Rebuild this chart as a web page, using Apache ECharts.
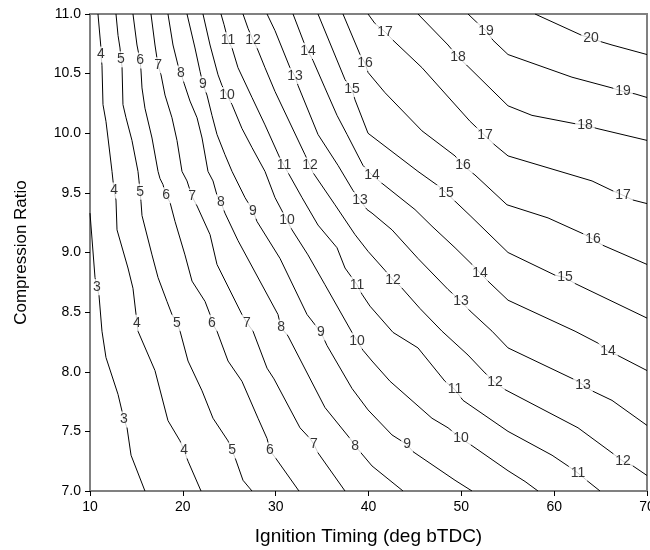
<!DOCTYPE html>
<html>
<head>
<meta charset="utf-8">
<script src="https://cdn.jsdelivr.net/npm/echarts@6/dist/echarts.min.js"></script>
<style>
  html, body { margin: 0; padding: 0; background: #fff; }
  #chart { width: 650px; height: 550px; }
</style>
</head>
<body>
<div id="chart"></div>
<script>
// contour lines, [ignition timing, compression ratio]
const level3 = [[10,9.33],[10.54,8.79],[10.75,8.71],[10.97,8.64],[11.29,8.34],[11.72,8.12],[13.02,7.81],[13.66,7.60],[13.99,7.53],[14.42,7.30],[15.92,7.0]];
const level4 = [[10.86,11],[11.18,10.715],[11.18,10.66],[11.29,10.57],[11.40,10.24],[11.72,10.10],[11.94,9.96],[12.37,9.68],[12.48,9.60],[12.59,9.52],[12.80,9.44],[12.91,9.19],[14.09,8.87],[14.63,8.70],[14.96,8.48],[15.06,8.41],[15.17,8.34],[17.00,8.01],[18.40,7.59],[19.70,7.42],[20.13,7.34],[20.56,7.25],[21.96,7.0]];
const level5 = [[12.80,11],[13.02,10.82],[13.23,10.715],[13.34,10.62],[13.45,10.56],[13.55,10.24],[13.88,10.13],[14.52,9.94],[15.17,9.68],[15.28,9.60],[15.39,9.51],[15.49,9.43],[15.60,9.31],[16.68,8.98],[17.33,8.79],[18.29,8.59],[18.83,8.48],[19.37,8.41],[19.70,8.34],[20.56,8.09],[22.07,7.84],[23.25,7.61],[24.87,7.42],[25.30,7.34],[25.62,7.28],[26.48,7.09],[27.45,7.0]];
const level6 = [[14.63,11],[15.06,10.74],[15.39,10.61],[15.49,10.53],[15.60,10.38],[15.92,10.21],[16.68,9.96],[17.33,9.68],[17.54,9.62],[17.86,9.57],[18.19,9.48],[18.62,9.42],[19.16,9.26],[20.23,8.98],[20.99,8.76],[22.39,8.59],[22.93,8.48],[23.14,8.41],[23.68,8.34],[24.87,8.09],[26.37,7.92],[28.10,7.61],[29.07,7.44],[29.39,7.34],[30.14,7.26],[32.51,7.0]];
const level7 = [[16.57,11],[17.00,10.74],[17.33,10.57],[17.65,10.49],[18.08,10.32],[18.83,10.13],[19.37,9.94],[19.91,9.68],[20.45,9.60],[20.99,9.47],[21.53,9.39],[22.93,9.15],[23.68,8.90],[26.37,8.48],[26.91,8.41],[27.56,8.34],[29.07,8.03],[29.82,7.94],[32.62,7.53],[33.70,7.44],[34.13,7.39],[34.56,7.32],[37.47,7.0]];
const level8 = [[18.40,11],[18.94,10.74],[19.48,10.57],[19.80,10.50],[20.13,10.42],[20.77,10.27],[21.53,10.13],[22.07,9.96],[22.71,9.68],[23.25,9.60],[23.68,9.48],[24.11,9.42],[24.54,9.33],[25.94,9.10],[30.25,8.48],[30.58,8.37],[31.33,8.30],[35.31,7.70],[38.01,7.44],[38.55,7.38],[39.19,7.32],[40.38,7.21],[43.72,7.0]];
const level9 = [[20.45,11],[21.31,10.715],[21.85,10.52],[22.17,10.41],[22.60,10.32],[23.14,10.15],[23.68,9.99],[24.54,9.82],[25.30,9.68],[26.70,9.46],[27.56,9.35],[27.99,9.26],[30.47,8.95],[33.38,8.48],[34.88,8.33],[35.53,8.22],[38.22,7.86],[39.95,7.68],[42.53,7.47],[44.15,7.39],[44.79,7.33],[49.32,7.09],[51.15,7.0]];
const level10 = [[22.17,11],[22.93,10.74],[23.79,10.49],[24.22,10.40],[24.76,10.32],[25.30,10.24],[26.37,10.04],[27.45,9.88],[28.85,9.68],[29.93,9.46],[31.22,9.27],[31.76,9.19],[33.48,8.98],[35.31,8.73],[38.22,8.33],[38.76,8.26],[39.41,8.18],[40.38,8.09],[42.32,7.92],[46.84,7.61],[48.57,7.53],[49.97,7.44],[51.15,7.38],[55.03,7.17],[56.86,7.08],[58.26,7.0]];
const level11 = [[24.11,11],[24.44,10.91],[24.87,10.78],[25.30,10.715],[25.94,10.55],[27.45,10.30],[28.85,10.07],[30.47,9.79],[30.90,9.73],[31.33,9.67],[32.84,9.46],[34.56,9.23],[36.61,9.04],[37.47,8.87],[38.76,8.73],[39.30,8.65],[40.16,8.55],[42.64,8.33],[45.33,8.20],[48.24,7.92],[49.32,7.85],[50.18,7.76],[55.03,7.50],[59.77,7.30],[61.49,7.21],[62.57,7.15],[63.65,7.08],[64.94,7.0]];
const level12 = [[26.48,11],[27.02,10.88],[27.56,10.78],[27.99,10.715],[28.85,10.55],[29.93,10.35],[33.16,9.82],[33.70,9.73],[34.02,9.67],[36.39,9.40],[38.55,9.15],[39.95,9.01],[41.78,8.85],[42.64,8.77],[43.39,8.72],[45.55,8.53],[47.92,8.34],[50.72,8.14],[52.55,7.99],[53.63,7.91],[54.71,7.85],[62.57,7.53],[66.23,7.32],[67.42,7.25],[68.49,7.21],[70,7.13]];
const level13 = [[29.07,11],[29.93,10.86],[31.54,10.55],[32.08,10.48],[32.41,10.40],[34.56,9.99],[36.72,9.73],[38.33,9.52],[39.09,9.44],[39.84,9.36],[40.38,9.33],[42.53,9.19],[45.33,8.95],[48.57,8.69],[49.97,8.59],[50.94,8.51],[53.31,8.34],[55.03,8.20],[62.57,7.92],[63.11,7.89],[64.08,7.84],[66.23,7.76],[70,7.55]];
const level14 = [[31.87,11],[33.05,10.76],[33.48,10.69],[34.02,10.61],[35.31,10.38],[36.61,10.15],[37.69,9.99],[39.41,9.73],[40.38,9.65],[41.46,9.58],[45.01,9.36],[46.84,9.22],[49.32,9.04],[51.15,8.90],[52.01,8.83],[52.87,8.76],[55.03,8.60],[62.25,8.34],[64.72,8.24],[65.80,8.17],[66.77,8.14],[70,8.01]];
const level15 = [[34.56,11],[37.47,10.45],[38.22,10.37],[38.55,10.28],[39.95,10.00],[45.33,9.68],[47.49,9.56],[48.35,9.50],[49.32,9.43],[50.94,9.31],[55.03,9.00],[60.09,8.81],[61.17,8.79],[62.25,8.74],[70,8.45]];
const level16 = [[37.25,11],[39.09,10.66],[39.62,10.59],[39.95,10.51],[41.78,10.34],[45.76,10.02],[49.32,9.81],[50.18,9.73],[51.47,9.65],[54.92,9.40],[59.34,9.29],[63.32,9.15],[64.18,9.11],[65.26,9.06],[70,8.90]];
const level17 = [[39.95,11],[40.70,10.92],[41.78,10.85],[42.64,10.78],[45.76,10.55],[50.94,10.10],[52.55,9.98],[53.63,9.90],[55.03,9.81],[64.08,9.60],[66.23,9.52],[67.42,9.48],[68.49,9.44],[70,9.41]];
const level18 = [[45.33,11],[48.57,10.74],[49.64,10.64],[50.72,10.56],[55.03,10.23],[57.61,10.15],[62.25,10.08],[63.32,10.07],[64.61,10.04],[70,9.94]];
const level19 = [[50.72,11],[51.80,10.92],[52.66,10.86],[53.41,10.78],[55.03,10.66],[61.92,10.47],[66.23,10.38],[67.42,10.35],[68.71,10.33],[70,10.30]];
const level20 = [[57.94,11],[63.00,10.82],[63.97,10.80],[64.94,10.77],[66.23,10.74],[70,10.66]];

const contours = [level3, level4, level5, level6, level7, level8, level9, level10, level11,
  level12, level13, level14, level15, level16, level17, level18, level19, level20];

// label positions on the lines: [x, y, level]
const labelPts = [
  [10.75,8.71,3],[13.66,7.60,3],
  [11.18,10.66,4],[12.59,9.52,4],[15.06,8.41,4],[20.13,7.34,4],
  [13.34,10.62,5],[15.39,9.51,5],[19.37,8.41,5],[25.30,7.34,5],
  [15.39,10.61,6],[18.19,9.48,6],[23.14,8.41,6],[29.39,7.34,6],
  [17.33,10.57,7],[20.99,9.47,7],[26.91,8.41,7],[34.13,7.39,7],
  [19.80,10.50,8],[24.11,9.42,8],[30.58,8.37,8],[38.55,7.38,8],
  [22.17,10.41,9],[27.56,9.35,9],[34.88,8.33,9],[44.15,7.39,9],
  [24.76,10.32,10],[31.22,9.27,10],[38.76,8.26,10],[49.97,7.44,10],
  [24.87,10.78,11],[30.90,9.73,11],[38.76,8.73,11],[49.32,7.85,11],[62.57,7.15,11],
  [27.56,10.78,12],[33.70,9.73,12],[42.64,8.77,12],[53.63,7.91,12],[67.42,7.25,12],
  [32.08,10.48,13],[39.09,9.44,13],[49.97,8.59,13],[63.11,7.89,13],
  [33.48,10.69,14],[40.38,9.65,14],[52.01,8.83,14],[65.80,8.17,14],
  [38.22,10.37,15],[48.35,9.50,15],[61.17,8.79,15],
  [39.62,10.59,16],[50.18,9.73,16],[64.18,9.11,16],
  [41.78,10.85,17],[52.55,9.98,17],[67.42,9.48,17],
  [49.64,10.64,18],[63.32,10.07,18],
  [52.66,10.86,19],[67.42,10.35,19],
  [63.97,10.80,20]
];

const xTicks = { min: 10, max: 70, step: 10 };
const yTicks = { min: 7, max: 11, step: 0.5 };

const font = "'Liberation Sans', Arial, sans-serif";
const chart = echarts.init(document.getElementById('chart'));

const series = contours.map(pts => ({
  type: 'line',
  data: pts,
  showSymbol: false,
  silent: true,
  clip: true,
  lineStyle: { color: '#000', width: 1 }
}));

// labels sit on the lines, white box cuts the line
series.push({
  type: 'scatter',
  data: labelPts,
  symbolSize: 1,
  itemStyle: { color: 'rgba(0,0,0,0)' },
  silent: true,
  z: 5,
  label: {
    show: true,
    position: 'inside',
    formatter: p => String(p.value[2]),
    fontFamily: font,
    fontSize: 14,
    color: '#000',
    backgroundColor: '#fff',
    padding: [1, 2]
  }
});

chart.setOption({
  animation: false,
  grid: {
    left: 90, right: 3, top: 14, bottom: 59,
    containLabel: false,
    outerBoundsMode: 'none',
    show: true,
    borderColor: '#808080',
    borderWidth: 2
  },
  xAxis: {
    type: 'value',
    min: xTicks.min, max: xTicks.max, interval: xTicks.step,
    name: 'Ignition Timing (deg bTDC)',
    nameLocation: 'middle',
    nameGap: 36,
    nameTextStyle: { fontFamily: font, fontSize: 19, color: '#000' },
    axisLine: { onZero: false, lineStyle: { color: '#808080', width: 2 } },
    axisTick: { show: true, length: 5, lineStyle: { color: '#000', width: 1 } },
    axisLabel: { fontFamily: font, fontSize: 14, color: '#000', margin: 9 },
    splitLine: { show: false }
  },
  yAxis: {
    type: 'value',
    min: yTicks.min, max: yTicks.max, interval: yTicks.step,
    name: 'Compression Ratio',
    nameLocation: 'middle',
    nameGap: 60,
    nameTextStyle: { fontFamily: font, fontSize: 17, color: '#000' },
    axisLine: { onZero: false, lineStyle: { color: '#808080', width: 2 } },
    axisTick: { show: true, length: 5, lineStyle: { color: '#000', width: 1 } },
    axisLabel: { fontFamily: font, fontSize: 14, color: '#000', margin: 9,
      formatter: v => v.toFixed(1) },
    splitLine: { show: false }
  },
  series: series
});
</script>
</body>
</html>
